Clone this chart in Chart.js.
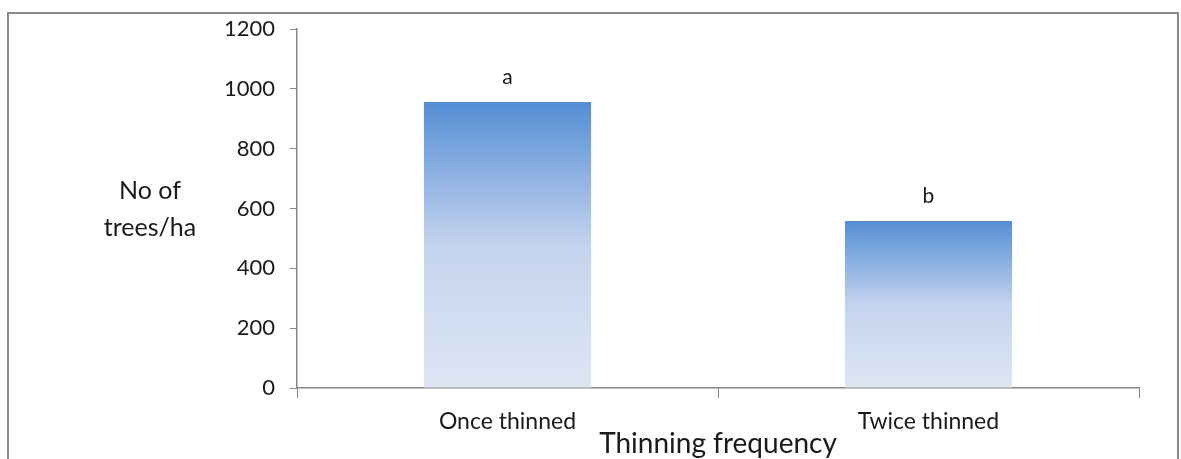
<!DOCTYPE html>
<html lang="en">
<head>
    <meta charset="UTF-8">
    <title>No of trees/ha by thinning frequency</title>
    <script src="https://cdn.jsdelivr.net/npm/chart.js"></script>
    <style>
        html, body { margin: 0; padding: 0; background: #fff; }
        .wrap { position: relative; width: 1181px; height: 459px; overflow: hidden; }
        .frame {
            position: absolute; left: 7px; top: 12px; width: 1172px; height: 480px;
            border: 2px solid #8a8a8a; box-sizing: border-box;
        }
        canvas { position: absolute; left: 0; top: 0; }
    </style>
</head>
<body>
<div class="wrap">
    <div class="frame"></div>
    <canvas id="chart" width="1181" height="459"></canvas>
</div>
<script>
    // data
    const categories = ['Once thinned', 'Twice thinned'];
    const treesPerHa = [956, 558];
    const letters = ['a', 'b'];
    const yTicks = [0, 200, 400, 600, 800, 1000, 1200];

    const FONT = 'Lato, "Open Sans", sans-serif';
    const TEXT = '#1a1a1a';
    const AXIS = '#868686';

    // vertical gradient per bar: strong blue at the top, pale at the base
    function barFill(ctx) {
        const chart = ctx.chart;
        const y = chart.scales && chart.scales.y;
        if (!chart.chartArea || !y || ctx.raw == null) return '#8fb0e0';
        const top = y.getPixelForValue(ctx.raw);
        const base = y.getPixelForValue(0);
        if (!isFinite(top) || !isFinite(base) || base === top) return '#8fb0e0';
        const g = chart.ctx.createLinearGradient(0, top, 0, base);
        g.addColorStop(0, 'rgb(85,142,213)');
        g.addColorStop(0.5, 'rgb(196,211,238)');
        g.addColorStop(1, 'rgb(222,230,244)');
        return g;
    }

    // letters over bars + axis titles
    const annotate = {
        id: 'annotate',
        afterDatasetsDraw(chart) {
            const c = chart.ctx;
            const area = chart.chartArea;
            c.save();
            c.fillStyle = TEXT;
            c.textAlign = 'center';
            c.textBaseline = 'middle';
            c.font = '21px ' + FONT;
            chart.getDatasetMeta(0).data.forEach((bar, i) => {
                c.fillText(letters[i], bar.x, bar.y - 25);
            });
            c.font = '25px ' + FONT;
            c.fillText('No of', 150, 191);
            c.fillText('trees/ha', 150, 228);
            c.font = '28px ' + FONT;
            c.fillText('Thinning frequency', (area.left + area.right) / 2, 444);
            c.restore();
        }
    };

    new Chart(document.getElementById('chart'), {
        type: 'bar',
        data: {
            labels: categories,
            datasets: [{
                data: treesPerHa,
                backgroundColor: barFill,
                borderWidth: 0,
                categoryPercentage: 0.397,
                barPercentage: 1
            }]
        },
        options: {
            responsive: false,
            animation: false,
            layout: { padding: { left: 0, right: 42, top: 29, bottom: 0 } },
            plugins: { legend: { display: false }, tooltip: { enabled: false } },
            scales: {
                x: {
                    afterFit(scale) { scale.height = 71; },
                    grid: { offset: true, drawOnChartArea: false, color: AXIS, tickLength: 10 },
                    border: { color: AXIS, width: 1.5 },
                    ticks: { color: TEXT, font: { family: FONT, size: 23 }, padding: 10 }
                },
                y: {
                    min: 0,
                    max: 1200,
                    afterFit(scale) { scale.width = 297; },
                    afterBuildTicks(scale) { scale.ticks = yTicks.map(v => ({ value: v })); },
                    grid: { drawOnChartArea: false, color: AXIS, tickLength: 7 },
                    border: { color: AXIS, width: 1.5 },
                    ticks: {
                        color: TEXT,
                        font: { family: FONT, size: 22 },
                        padding: 15,
                        callback: v => String(v)
                    }
                }
            }
        },
        plugins: [annotate]
    });
</script>
</body>
</html>
